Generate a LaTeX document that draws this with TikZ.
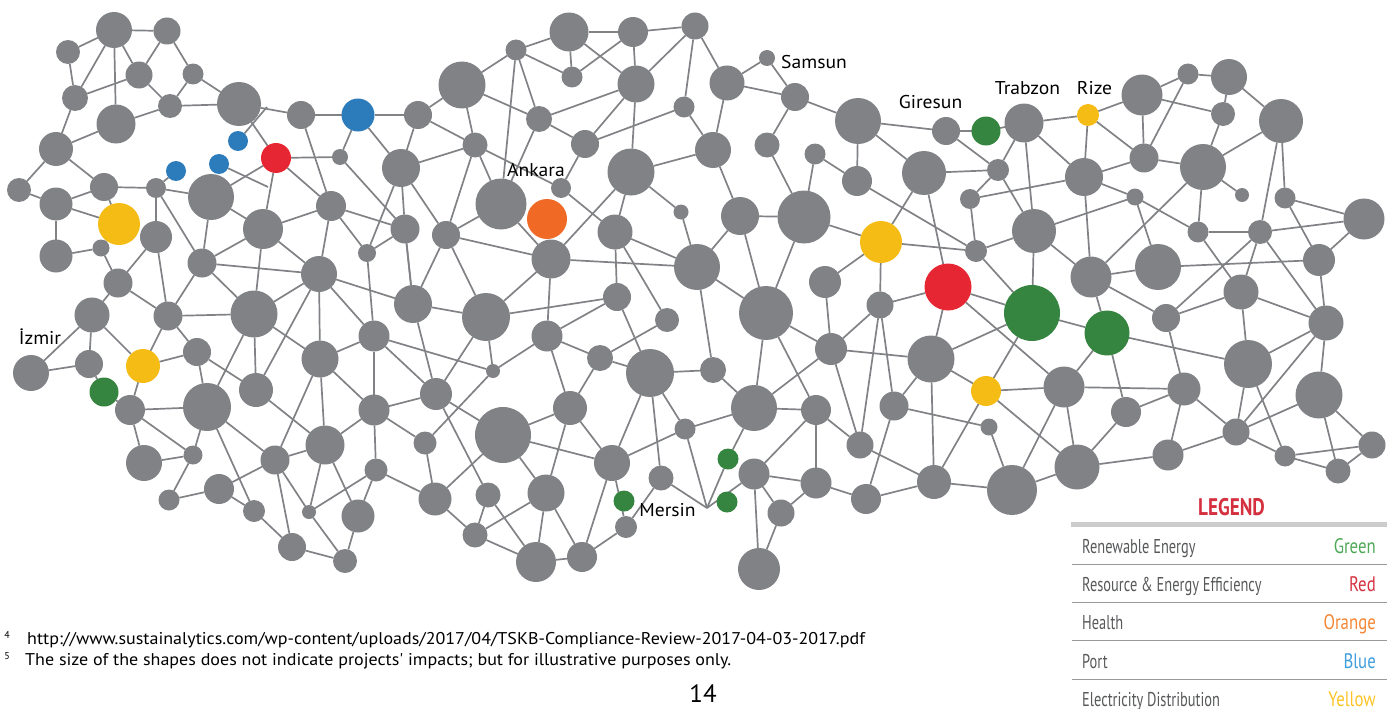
\documentclass[tikz,border=0pt]{standalone}
\usepackage{fontspec}
\setmainfont{PT Sans}
\newfontfamily\condfont[FakeStretch=0.72]{PT Sans}
\newfontfamily\condhead[FakeStretch=0.8]{PT Sans}
\newfontfamily\widefont[FakeStretch=1.06]{PT Sans}
\usetikzlibrary{backgrounds}
\definecolor{nodegray}{HTML}{808285}
\definecolor{edgegray}{HTML}{808285}
\definecolor{cgreen}{HTML}{35843F}
\definecolor{cblue}{HTML}{2C7BBB}
\definecolor{cred}{HTML}{E62733}
\definecolor{corange}{HTML}{F16A25}
\definecolor{cyellow}{HTML}{F5BC16}
\definecolor{lgreen}{HTML}{4FA857}
\definecolor{lred}{HTML}{D5303F}
\definecolor{lorange}{HTML}{F58634}
\definecolor{lblue}{HTML}{3F9EDC}
\definecolor{lyellow}{HTML}{FDC325}
\definecolor{ltext}{HTML}{58595B}
\tikzset{
  dot/.style={circle,inner sep=0pt,outer sep=0pt,draw=none},
  edge/.style={draw=edgegray,line width=1.7pt},
  city/.style={anchor=base,inner sep=0pt,font=\widefont\fontsize{18.5}{20}\selectfont,text=black},
  legleft/.style={anchor=base west,inner sep=0pt,text=ltext,font=\condfont\fontsize{20}{22}\selectfont},
  legright/.style={anchor=base east,inner sep=0pt,font=\condhead\fontsize{21}{22}\selectfont},
  legline/.style={draw=black!40,line width=1pt},
  foot/.style={anchor=base west,inner sep=0pt,text=black,font=\widefont\fontsize{17}{20}\selectfont},
  supmark/.style={anchor=center,inner sep=0pt,text=black,font=\fontsize{10}{11}\selectfont}
}
\begin{document}
\begin{tikzpicture}[x=1pt,y=-1pt]
\useasboundingbox (0,0) rectangle (1397,709);
% gray nodes
\foreach \n/\x/\y/\r in {
a1/114/30/18,a2/167/31/13.5,a3/68/52/12,a4/139/75/13.5,a5/193/74/10.5,a6/75/98/13,a7/170/106/12,a8/239/104/22,a9/116/124/19.5,a10/301/115/14,
a11/56/149/17,a12/340/157/8,a13/19/190/12,a14/104/187/14,a15/156/188/10,a16/56/204/16.5,a17/211/197/23,a18/331/206/15,a19/156/237/16,a20/263/229/20,
a21/101/248/8.5,a22/56/256/16.5,a23/202/263/14.5,a24/118/283/14.5,a25/319/274/18,a26/92/315/17.5,a27/168/316/14.5,a28/254/314/23.5,a29/197/352/14,a30/89/364/14,
a31/31/373/18,a32/320/359/18.5,a33/130/410/15,a34/207/407/24,a35/256/390/17,a36/325/445/19.5,a37/144/463/18,a38/193/455/9.5,a39/275/460/14.5,a40/219/489/15,
a41/169/500/10.5,a42/254/511/11,a43/309/512/7,a44/292/547/14,a45/345/561/12,a46/413/304/19,a47/486/317/24,a48/617/297/14,a49/667/320/12,a50/374/336/15.5,
a51/547/336/15.5,a52/600/358/13,a53/650/373/24,a54/493/371/7,a55/374/410/15.5,a56/436/394/16,a57/570/408/17,a58/685/429/10.5,a59/503/435/28,a60/425/443/11.5,
a61/612/463/18,a62/376/470/11.5,a63/661/478/12.5,a64/435/499/16.5,a65/488/495/12.5,a66/546/493/18.5,a67/358/516/16.5,a68/626/527/11,a69/475/535/12.5,a70/536/562/20,
a71/582/557/15,a72/569/32/19.5,a73/633/32/15,a74/695/26/13.5,a75/516/50/10.5,a76/572/77/10.5,a77/636/84/18.5,a78/462/85/23.5,a79/684/107/10.5,a80/418/115/14,
a81/539/119/13,a82/475/145/12.5,a83/585/144/14,a84/401/168/19,a85/631/172/23.5,a86/561/188/10,a87/501/204/25.5,a88/681/212/7.5,a89/405/229/14.5,a90/446/235/14,
a91/615/232/17.5,a92/367/253/9,a93/551/259/19.5,a94/727/83/17.5,a95/795/97/14,a96/858/121/23,a97/946/131/14,a98/713/150/18,a99/767/145/12.5,a100/815/154/10.5,
a101/857/181/15,a102/924/173/22,a103/998/170/11,a104/970/199/10,a105/740/216/19,a106/804/217/26.5,a107/976/251/11,a108/697/267/23,a109/825/282/16,a110/880/305/13.5,
a111/766/313/27,a112/831/349/16,a113/931/359/23.5,a114/713/370/13,a115/754/408/23,a116/816/410/15,a117/894/406/14.5,a119/989/427/8.5,a120/860/445/13.5,a122/754/474/15.5,
a123/816/483/15.5,a124/934/482/17,a125/866/499/15,a126/781/513/13.5,a127/1012/490/25,a128/759/569/21,a129/1064/387/20.5,s1/767/58/8,
t1/1024/123/19.5,b1/1142/95/20.5,b2/1188/74/10.5,b3/1229/77/18,b4/1223/114/12,b5/1281/121/22,b6/1144/158/14.5,b7/1203/167/23,b8/1084/177/19,b9/1242/195/7,
b10/1135/197/8.5,b11/1285/198/10.5,b12/1364/219/20.5,b13/1034/231/22,b14/1198/232/10.5,b15/1260/232/12,b16/1319/260/16,b17/1158/267/23,b18/1091/277/20.5,b19/1241/292/17.5,
b20/1166/318/14,b21/1326/323/17.5,b22/1248/364/24,b23/1319/395/23.5,b24/1184/389/16.5,b25/1126/412/15,b26/1236/432/13.5,b27/1372/445/13.5,b28/1285/456/10.5,b29/1338/471/12.5,
b30/1168/455/15.5,b31/1077/467/22.5}
  \node[dot,fill=nodegray,minimum size=2*\r pt] (\n) at (\x,\y) {};
% coloured nodes
\foreach \n/\x/\y/\r/\c in {
pa/238/141/10/cblue,pb/219/164/10/cblue,pc/176/171/10/cblue,pd/358/115/16.5/cblue,
r1/276/158/15/cred,r2/948/287/23.5/cred,o1/547/219/20/corange,
y1/119/224/21/cyellow,y2/143/366/17/cyellow,y3/881/242/21/cyellow,y4/986/391/15/cyellow,y5/1088/115/11/cyellow,
g1/104/392/14.5/cgreen,g2/624/501/10.5/cgreen,g3/986/131/14.5/cgreen,g4/1032/313/28/cgreen,g5/727/502/10.5/cgreen,g6/1107/333/22.5/cgreen,g7/728/459/10.5/cgreen}
  \node[dot,fill=\c,minimum size=2*\r pt] (\n) at (\x,\y) {};
\coordinate (cpa) at (267,107);
\coordinate (cpb) at (268,187);
\coordinate (M) at (707,508);
\begin{pgfonlayer}{background}
\foreach \a/\b in {
a3/a1,a1/a2,a1/a6,a1/a9,a1/a4,a2/a4,a2/a5,a3/a6,a6/a4,a4/a7,a5/a7,a5/a8,a7/a9,a7/a8,a6/a11,a9/a11,a8/a10,a10/pd,a8/r1,pa/cpa,
a11/a13,a11/a14,a13/a16,a14/a16,a14/a15,a15/a17,a15/pc,a14/y1,a16/y1,a16/a22,a22/a21,a21/y1,a21/a24,a19/a15,a19/a24,a15/a23,a17/r1,a17/a20,a17/a23,a20/r1,pb/cpb,
r1/a12,r1/a18,a10/a18,a18/a20,a20/a23,a20/a25,a20/a28,a23/a25,a23/a28,a18/a25,a19/a27,a23/a27,a24/a26,a24/a27,a25/a28,a25/a32,a25/a35,a25/a50,a25/a46,
pd/a12,pd/a84,a12/a89,a18/a89,a18/a92,
a26/a31,a26/a30,a26/y2,a27/a28,a27/y2,a27/a29,a31/a30,a30/g1,g1/a33,y2/a33,y2/a29,a29/a34,a29/a35,a33/a34,a33/a37,a33/a38,a34/a38,a37/a38,a38/a41,a41/a40,a40/a39,a40/a42,a34/a42,a34/a39,a34/a28,a28/a35,a28/a32,a35/a36,a32/a36,a32/a50,a32/a55,a32/a39,a36/a39,a36/a43,a39/a43,a39/a44,a36/a67,a43/a62,a43/a45,a44/a45,a44/a42,a36/a55,
a46/a47,a46/a56,a47/a56,a47/a54,a47/a48,a47/a93,a47/a90,a46/a89,a46/a90,a50/a92,a50/a54,a50/a56,a50/a55,
a51/a93,a51/a48,a51/a54,a51/a52,a51/a57,a52/a49,a52/a53,a52/a57,a48/a53,a49/a91,a48/a91,a53/a58,a53/a114,a53/a61,a53/a63,a58/a61,a57/a59,a57/a61,a57/a66,a59/a61,a59/a56,a59/a64,a59/a66,a54/a60,a60/a64,a60/a55,a56/a55,a56/a65,a55/a62,a62/a64,a62/a67,a67/a45,a64/a69,a65/a69,a65/a70,a66/a69,a69/a70,a66/a70,a66/a71,a70/a71,a71/a68,a61/a71,a61/a68,a68/a63,
a63/M,M/a58,M/g7,M/a122,g7/a115,a122/a116,a122/a123,a122/a126,a122/a128,a126/a128,a126/a123,a123/a125,a125/a124,a124/a127,a127/a119,a127/b31,a116/a123,a116/a115,a116/a120,a111/a116,a115/a111,a115/a112,a111/a112,a115/a58,a115/a114,a114/a108,a111/a108,a112/a109,a112/a113,a112/a110,a112/a120,a110/a120,a110/a117,a110/r2,a113/r2,a113/a117,a113/a124,a113/g4,a113/y4,a117/a119,a117/a125,a120/a124,a124/y4,y4/g4,y4/a129,y4/b31,r2/g4,r2/a129,a127/a129,a105/a111,a106/a111,
a74/a94,a74/a79,s1/a94,s1/a95,a94/a95,a94/a98,a79/a98,a95/a99,a95/a96,a96/a97,a97/g3,a98/a105,a98/a85,a99/a106,a100/a106,a100/a101,a96/a101,a96/a102,a97/a103,a102/a103,a102/y3,a102/r2,a101/a107,a103/a104,a103/t1,a103/b13,a104/a107,a104/b8,a107/b13,a107/y3,a107/g4,a106/y3,a105/a106,a105/a108,a88/a108,a85/a88,a108/a93,a108/a91,y3/a109,y3/a110,
pd/a80,a80/a78,a80/a82,a80/a84,a78/a75,a78/a81,a78/a82,a75/a72,a75/a76,a75/a81,a75/a87,a72/a73,a72/a76,a72/a77,a73/a74,a73/a76,a73/a77,a74/a77,a77/a81,a77/a83,a77/a85,a81/a83,a81/a87,a83/a86,a83/a79,a82/a84,a82/a86,a82/a87,a82/a90,a84/a89,a84/a90,a84/a92,a92/a89,a89/a46,a90/a87,a90/a93,a87/a93,a86/a91,a85/a93,a85/a91,
t1/g3,t1/y5,y5/b1,y5/b6,y5/b8,b1/b2,b2/b3,b1/b6,b2/b6,b1/b4,b3/b4,b3/b5,b4/b7,b5/b7,b6/b7,b6/b8,t1/b8,t1/b13,b8/b10,b8/b18,b10/b13,b10/b14,b10/b17,b7/b9,b7/b14,b7/b18,b5/b15,b5/b11,b11/b12,b11/b16,b14/b15,b15/b12,b16/b12,b16/b21,b16/b17,b17/b18,b14/b19,b15/b19,b15/b20,b15/b21,b19/b20,b19/b21,b19/b22,b18/b20,b13/b18,b13/g4,b18/g6,
g4/g6,g6/b22,g6/a129,g6/b25,a129/b24,a129/b31,b25/b24,b25/b31,b20/b24,b24/b30,b24/b26,b30/b31,b30/b26,b22/b21,b22/b26,b22/b28,b26/b21,b26/b23,b26/b28,b21/b23,b23/b27,b23/b29,b28/b27,b28/b29,b29/b27}
  \draw[edge] (\a) -- (\b);
\end{pgfonlayer}
% city labels
\node[city] (tsam) at (814,69) {Samsun};
\node[city] (tank) at (536,176) {Ankara};
\node[city] (tgir) at (930.5,108) {Giresun};
\node[city] (ttra) at (1027.5,94) {Trabzon};
\node[city] (triz) at (1094.5,95) {Rize};
\node[city] (tizm) at (40,344) {İzmir};
\node[city] (tmer) at (667.5,516) {Mersin};
% legend
\node[anchor=base,inner sep=0pt,text=lred,font=\condhead\bfseries\fontsize{24}{26}\selectfont] (tleg) at (1231.5,515) {LEGEND};
\coordinate (l0a) at (1071,524.5); \coordinate (l0b) at (1387,524.5);
\draw[draw=black!20,line width=5pt] (l0a) -- (l0b);
\foreach \y in {564,602.5,640.5,679}{
  \coordinate (la) at (1072,\y); \coordinate (lb) at (1387,\y);
  \draw[legline] (la) -- (lb);
}
\node[legleft] (l1) at (1082,553) {Renewable Energy};
\node[legright,text=lgreen] (r1t) at (1376,553) {Green};
\node[legleft] (l2) at (1082,591) {Resource \& Energy Efficiency};
\node[legright,text=lred] (r2t) at (1376,591) {Red};
\node[legleft] (l3) at (1082,629) {Health};
\node[legright,text=lorange] (r3t) at (1376,629) {Orange};
\node[legleft] (l4) at (1082,668) {Port};
\node[legright,text=lblue] (r4t) at (1376,668) {Blue};
\node[legleft] (l5) at (1082,706) {Electricity Distribution};
\node[legright,text=lyellow] (r5t) at (1376,706) {Yellow};
% footnotes
\node[supmark] (s4) at (7,635) {4};
\node[foot] (f4) at (27,644) {http://www.sustainalytics.com/wp-content/uploads/2017/04/TSKB-Compliance-Review-2017-04-03-2017.pdf};
\node[supmark] (s5) at (7,656) {5};
\node[foot] (f5) at (25,665) {The size of the shapes does not indicate projects' impacts; but for illustrative purposes only.};
\node[anchor=base,inner sep=0pt,font=\fontsize{25}{27}\selectfont] (pg) at (703,702) {14};
\end{tikzpicture}
\end{document}
